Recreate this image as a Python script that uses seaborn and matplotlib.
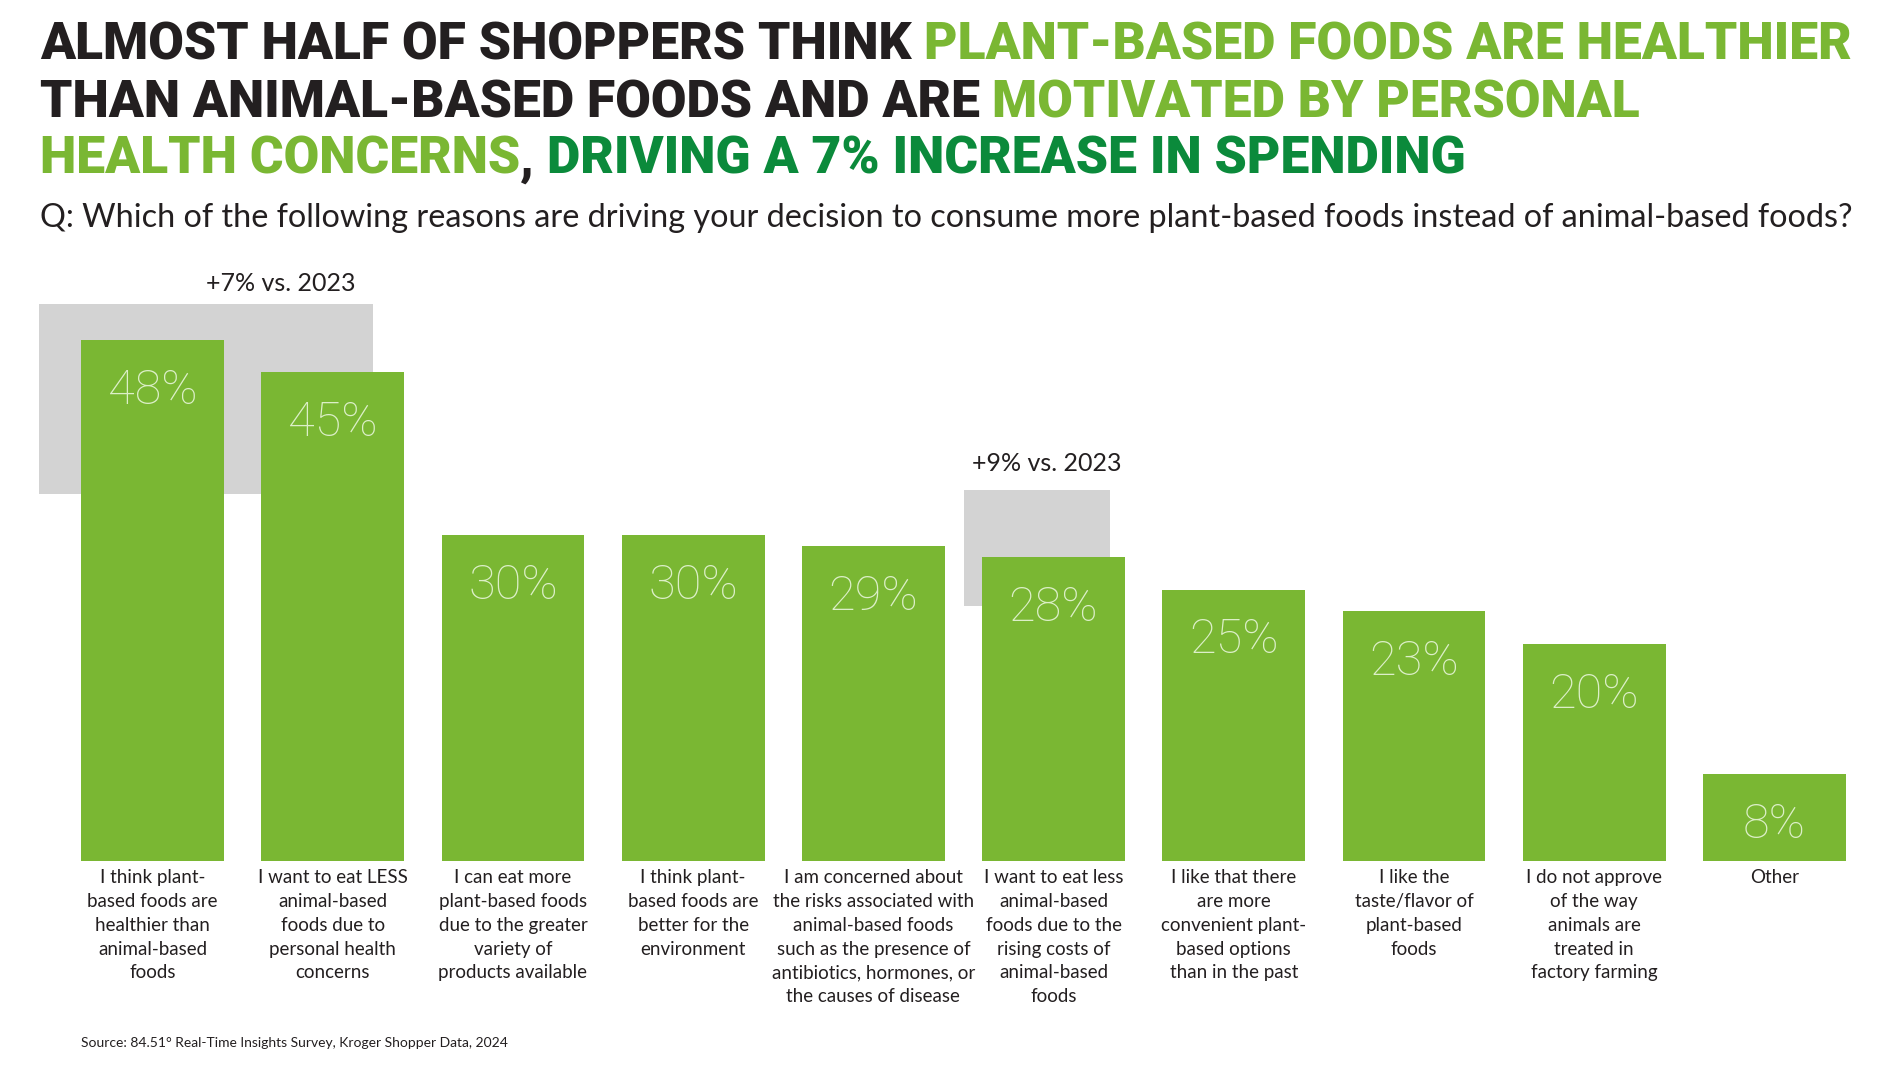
import numpy as np
import pandas as pd
import seaborn as sns
import matplotlib.pyplot as plt
from matplotlib.patches import Rectangle

# --- data ---
kategoriler = [
    "I think plant-\nbased foods are\nhealthier than\nanimal-based\nfoods",
    "I want to eat LESS\nanimal-based\nfoods due to\npersonal health\nconcerns",
    "I can eat more\nplant-based foods\ndue to the greater\nvariety of\nproducts available",
    "I think plant-\nbased foods are\nbetter for the\nenvironment",
    "I am concerned about\nthe risks associated with\nanimal-based foods\nsuch as the presence of\nantibiotics, hormones, or\nthe causes of disease",
    "I want to eat less\nanimal-based\nfoods due to the\nrising costs of\nanimal-based\nfoods",
    "I like that there\nare more\nconvenient plant-\nbased options\nthan in the past",
    "I like the\ntaste/flavor of\nplant-based\nfoods",
    "I do not approve\nof the way\nanimals are\ntreated in\nfactory farming",
    "Other",
]
yuzdeler = [48, 45, 30, 30, 29, 28, 25, 23, 20, 8]
artis_notlari = ["+7% vs. 2023", "+9% vs. 2023"]

baslik_satirlari = [
    [("ALMOST HALF OF SHOPPERS THINK", "koyu"), ("PLANT-BASED FOODS ARE HEALTHIER", "acik")],
    [("THAN ANIMAL-BASED FOODS AND ARE", "koyu"), ("MOTIVATED BY PERSONAL", "acik")],
    [("HEALTH CONCERNS", "acik"), (",", "koyu"), ("DRIVING A 7% INCREASE IN SPENDING", "yesil")],
]
soru = "Q: Which of the following reasons are driving your decision to consume more plant-based foods instead of animal-based foods?"
kaynak = "Source: 84.51\u00b0 Real-Time Insights Survey, Kroger Shopper Data, 2024"

# --- style ---
renkler = {"koyu": "#231f20", "acik": "#7ab733", "yesil": "#0b8a3b"}
BAR_RENK = "#7ab733"
ETIKET_RENK = "#dcefc8"
GRI = "#d3d3d3"
W, H = 1899, 1072

sns.set_theme(style="white")
plt.rcParams["font.family"] = ["Lato", "DejaVu Sans"]

fig = plt.figure(figsize=(W / 100, H / 100), dpi=100)
ax = fig.add_axes([0.0329, 0.1968, 0.9489, 0.5196])

df = pd.DataFrame({"neden": kategoriler, "yuzde": yuzdeler})
sns.barplot(data=df, x="neden", y="yuzde", color=BAR_RENK, saturation=1,
            width=0.793, linewidth=0, ax=ax, zorder=2)

ax.set_ylim(0, 51.3)
ax.set_xlim(-0.5, 9.5)
ax.set_xlabel("")
ax.set_ylabel("")
ax.set_yticks([])
sns.despine(ax=ax, left=True, bottom=True)
ax.tick_params(axis="x", length=0, pad=6)
for lab in ax.get_xticklabels():
    lab.set_fontsize(13.5)
    lab.set_color(renkler["koyu"])
    lab.set_linespacing(1.48)

# grey highlight boxes
ax.add_patch(Rectangle((-0.632, 33.8), 1.855, 17.5, color=GRI, zorder=1, clip_on=False, lw=0))
ax.add_patch(Rectangle((4.503, 23.5), 0.813, 10.65, color=GRI, zorder=1, clip_on=False, lw=0))
ax.text(0.712, 53.2, artis_notlari[0], ha="center", va="center", fontsize=18,
        color=renkler["koyu"])
ax.text(4.96, 36.6, artis_notlari[1], ha="center", va="center", fontsize=18,
        color=renkler["koyu"])

# value labels inside bars
for i, v in enumerate(yuzdeler):
    ax.annotate(f"{v}%", xy=(i, v), xytext=(0, -46), textcoords="offset points",
                ha="center", va="baseline", fontsize=35, fontweight="light",
                family=["Roboto", "DejaVu Sans"], color=ETIKET_RENK, zorder=3)

renderer = fig.canvas.get_renderer()
BASLIK_FONT = ["Roboto", "DejaVu Sans"]


def satir_ciz(y_px, parcalar, boyut):
    x = 40
    for j, (txt, renk) in enumerate(parcalar):
        if j > 0 and txt != ",":
            x += boyut * 100 / 72 * 0.24
        t = fig.text(x / W, 1 - y_px / H, txt, color=renkler[renk], fontsize=boyut,
                     fontweight="black", family=BASLIK_FONT, va="center", ha="left")
        x = t.get_window_extent(renderer).x1
    return x


# fit title size to first line width
n_once = len(fig.texts)
deneme = satir_ciz(-500, baslik_satirlari[0], 40)
for t in list(fig.texts)[n_once:]:
    t.remove()
baslik_boyut = 40 * (1853 - 40) / (deneme - 40)
for k, parcalar in enumerate(baslik_satirlari):
    satir_ciz(46 + 57 * k, parcalar, baslik_boyut)

# subtitle fit
st = fig.text(40 / W, 1 - 218 / H, soru, fontsize=20, color=renkler["koyu"],
              va="center", ha="left")
bw = st.get_window_extent(renderer).width
st.set_fontsize(20 * (1813 / bw))

fig.text(81 / W, 1 - 1043 / H, kaynak, fontsize=10, color=renkler["koyu"],
         va="center", ha="left")

fig.savefig("out.png", dpi=100, facecolor="white")
